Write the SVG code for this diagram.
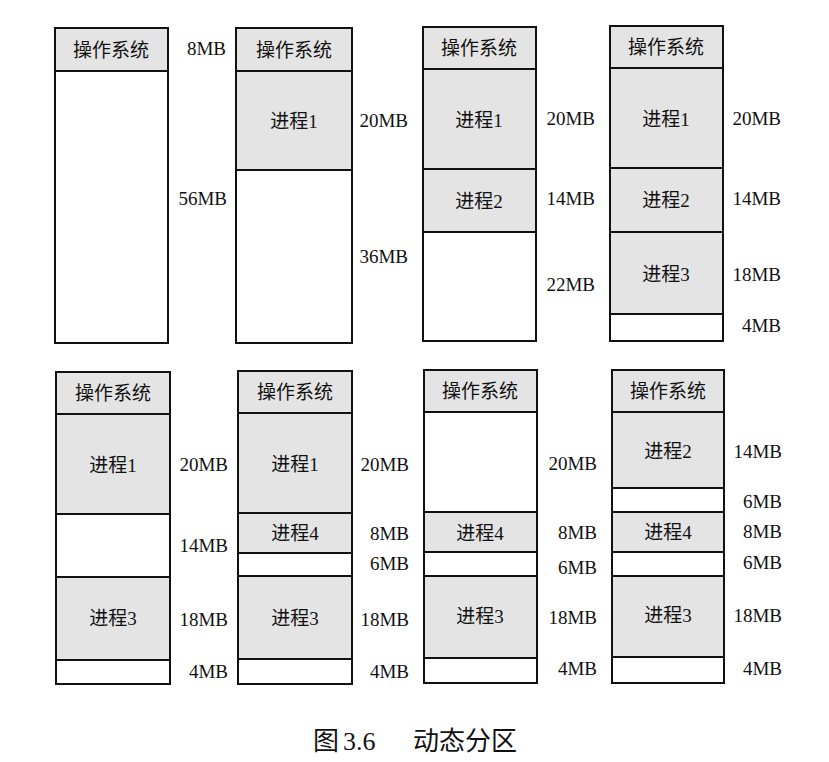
<svg xmlns="http://www.w3.org/2000/svg" width="829" height="762" viewBox="0 0 829 762">
<style>
.g{fill:#e4e4e4;stroke:#111;stroke-width:2}
.w{fill:#fff;stroke:#111;stroke-width:2}
text{font-family:"Liberation Serif","Noto Sans CJK SC",serif;fill:#111;dominant-baseline:central}
.t{font-size:19px;text-anchor:middle}
.l{font-size:19px;text-anchor:end}
.c{font-size:26px}
</style>
<rect width="829" height="762" fill="#fff"/>
<g id="top1">
<rect class="g" x="55" y="28" width="113" height="43"/>
<rect class="w" x="55" y="71" width="113" height="272"/>
<text class="t" x="111" y="50">操作系统</text>
<text class="l" x="226" y="48">8MB</text>
<text class="l" x="227" y="198">56MB</text>
</g>
<g id="top2">
<rect class="g" x="236" y="28" width="116" height="43"/>
<rect class="g" x="236" y="71" width="116" height="99"/>
<rect class="w" x="236" y="170" width="116" height="173"/>
<text class="t" x="294" y="50">操作系统</text>
<text class="t" x="294" y="121">进程1</text>
<text class="l" x="408" y="120">20MB</text>
<text class="l" x="408" y="256">36MB</text>
</g>
<g id="top3">
<rect class="g" x="423" y="27" width="113" height="42"/>
<rect class="g" x="423" y="69" width="113" height="100"/>
<rect class="g" x="423" y="169" width="113" height="63"/>
<rect class="w" x="423" y="232" width="113" height="109"/>
<text class="t" x="479" y="48">操作系统</text>
<text class="t" x="479" y="120">进程1</text>
<text class="t" x="479" y="201">进程2</text>
<text class="l" x="595" y="118">20MB</text>
<text class="l" x="595" y="198">14MB</text>
<text class="l" x="595" y="284">22MB</text>
</g>
<g id="top4">
<rect class="g" x="610" y="26" width="113" height="42"/>
<rect class="g" x="610" y="68" width="113" height="100"/>
<rect class="g" x="610" y="168" width="113" height="64"/>
<rect class="g" x="610" y="232" width="113" height="82"/>
<rect class="w" x="610" y="314" width="113" height="27"/>
<text class="t" x="666" y="47">操作系统</text>
<text class="t" x="666" y="119">进程1</text>
<text class="t" x="666" y="200">进程2</text>
<text class="t" x="666" y="274">进程3</text>
<text class="l" x="781" y="118">20MB</text>
<text class="l" x="781" y="198">14MB</text>
<text class="l" x="781" y="274">18MB</text>
<text class="l" x="781" y="325">4MB</text>
</g>
<g id="bot1">
<rect class="g" x="56" y="372" width="114" height="42"/>
<rect class="g" x="56" y="414" width="114" height="100"/>
<rect class="w" x="56" y="514" width="114" height="63"/>
<rect class="g" x="56" y="577" width="114" height="83"/>
<rect class="w" x="56" y="660" width="114" height="24"/>
<text class="t" x="113" y="393">操作系统</text>
<text class="t" x="113" y="465">进程1</text>
<text class="t" x="113" y="618">进程3</text>
<text class="l" x="228" y="464">20MB</text>
<text class="l" x="228" y="545">14MB</text>
<text class="l" x="228" y="619">18MB</text>
<text class="l" x="228" y="671">4MB</text>
</g>
<g id="bot2">
<rect class="g" x="238" y="371" width="114" height="42"/>
<rect class="g" x="238" y="413" width="114" height="100"/>
<rect class="g" x="238" y="513" width="114" height="40"/>
<rect class="w" x="238" y="553" width="114" height="23"/>
<rect class="g" x="238" y="576" width="114" height="83"/>
<rect class="w" x="238" y="659" width="114" height="25"/>
<text class="t" x="295" y="392">操作系统</text>
<text class="t" x="295" y="464">进程1</text>
<text class="t" x="295" y="533">进程4</text>
<text class="t" x="295" y="618">进程3</text>
<text class="l" x="409" y="464">20MB</text>
<text class="l" x="409" y="533">8MB</text>
<text class="l" x="409" y="563">6MB</text>
<text class="l" x="409" y="619">18MB</text>
<text class="l" x="409" y="671">4MB</text>
</g>
<g id="bot3">
<rect class="g" x="424" y="370" width="113" height="42"/>
<rect class="w" x="424" y="412" width="113" height="100"/>
<rect class="g" x="424" y="512" width="113" height="40"/>
<rect class="w" x="424" y="552" width="113" height="24"/>
<rect class="g" x="424" y="576" width="113" height="82"/>
<rect class="w" x="424" y="658" width="113" height="25"/>
<text class="t" x="480" y="391">操作系统</text>
<text class="t" x="480" y="533">进程4</text>
<text class="t" x="480" y="616">进程3</text>
<text class="l" x="597" y="463">20MB</text>
<text class="l" x="597" y="532">8MB</text>
<text class="l" x="597" y="567">6MB</text>
<text class="l" x="597" y="617">18MB</text>
<text class="l" x="597" y="668">4MB</text>
</g>
<g id="bot4">
<rect class="g" x="612" y="370" width="112" height="42"/>
<rect class="g" x="612" y="412" width="112" height="76"/>
<rect class="w" x="612" y="488" width="112" height="24"/>
<rect class="g" x="612" y="512" width="112" height="40"/>
<rect class="w" x="612" y="552" width="112" height="24"/>
<rect class="g" x="612" y="576" width="112" height="81"/>
<rect class="w" x="612" y="657" width="112" height="26"/>
<text class="t" x="668" y="391">操作系统</text>
<text class="t" x="668" y="451">进程2</text>
<text class="t" x="668" y="532">进程4</text>
<text class="t" x="668" y="615">进程3</text>
<text class="l" x="782" y="451">14MB</text>
<text class="l" x="782" y="501">6MB</text>
<text class="l" x="782" y="531">8MB</text>
<text class="l" x="782" y="562">6MB</text>
<text class="l" x="782" y="615">18MB</text>
<text class="l" x="782" y="668">4MB</text>
</g>
<g id="caption">
<text class="c" x="313" y="741">图</text>
<text class="c" x="343" y="741">3.6</text>
<text class="c" x="413" y="741">动态分区</text>
</g>
</svg>
